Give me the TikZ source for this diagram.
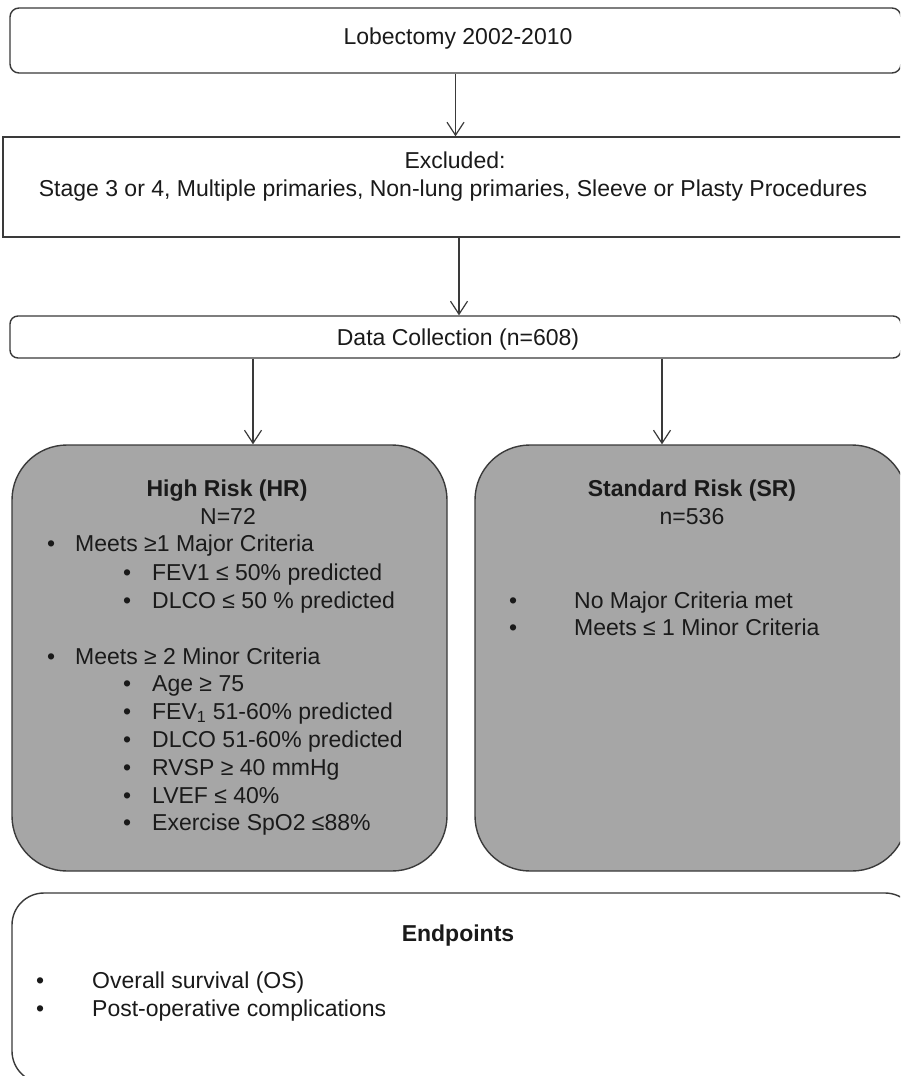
\documentclass[tikz,border=0pt]{standalone}
\usepackage{fontspec}
\setmainfont{Liberation Sans}
\usetikzlibrary{arrows.meta,calc}
\definecolor{boxline}{HTML}{3A3A3A}
\definecolor{boxgray}{HTML}{A6A6A6}
\definecolor{txt}{HTML}{1A1A1A}
\begin{document}
\begin{tikzpicture}[x=1pt,y=-1pt,
  box/.style={draw=boxline,line width=1.4pt,inner sep=0pt,anchor=center},
  whitebox/.style={box,fill=white},
  graybox/.style={box,fill=boxgray,rounded corners=55pt},
  lbl/.style={inner sep=0pt,anchor=base,text=txt,font=\fontsize{23}{28}\selectfont},
  item/.style={inner sep=0pt,anchor=base west,text=txt,font=\fontsize{23}{28}\selectfont},
  arr/.style={draw=boxline,line width=1.2pt,-{Straight Barb[length=13pt,width=17pt,line width=1.2pt]}}
]
\useasboundingbox (0,0) rectangle (900,1076);
\fill[white] (0,0) rectangle (900,1076);
\begin{scope}
\clip (0,0) rectangle (900,1076);
% boxes
\node[whitebox,rounded corners=9pt,minimum width=891pt,minimum height=65pt] (top) at (455.5,40.5) {};
\node[whitebox,minimum width=907pt,minimum height=100pt] (excl) at (456.5,187) {};
\node[whitebox,rounded corners=8pt,minimum width=891pt,minimum height=42pt] (data) at (455.5,337) {};
\node[graybox,minimum width=435pt,minimum height=426pt] (hr) at (229.5,658) {};
\node[graybox,minimum width=432pt,minimum height=426pt] (sr) at (691,658) {};
\node[whitebox,rounded corners=32pt,minimum width=905pt,minimum height=190pt] (ep) at (464.5,988) {};

% connectors
\draw[arr] (top.south) -- (top.south |- excl.north);
\coordinate (c2) at ([xshift=2.5pt]excl.south);
\draw[arr] (c2) -- (c2 |- data.north);
\coordinate (c3) at ([xshift=23.5pt]hr.north);
\draw[arr] (c3 |- data.south) -- (c3);
\coordinate (c4) at ([xshift=-29pt]sr.north);
\draw[arr] (c4 |- data.south) -- (c4);
\end{scope}

% texts
\node[lbl] (tTop) at (458,44) {Lobectomy 2002-2010};
\node[lbl] (tEx1) at (455,168) {Excluded:};
\node[lbl] (tEx2) at (453,196) {Stage 3 or 4, Multiple primaries, Non-lung primaries, Sleeve or Plasty Procedures};
\node[lbl] (tData) at (458,345) {Data Collection (n=608)};

\node[lbl,font=\fontsize{23}{28}\selectfont\bfseries] (hrT) at (227,496) {High Risk (HR)};
\node[lbl] (hrN) at (228,524) {N=72};
\node[item] (hr1) at (47,551) {\makebox[28pt][l]{•}Meets ≥1 Major Criteria};
\node[item] (hr1a) at (123,580) {\makebox[29pt][l]{•}FEV1 ≤ 50\% predicted};
\node[item] (hr1b) at (123,608) {\makebox[29pt][l]{•}DLCO ≤ 50 \% predicted};
\node[item] (hr2) at (47,664) {\makebox[28pt][l]{•}Meets ≥ 2 Minor Criteria};
\node[item] (hr2a) at (123,691) {\makebox[29pt][l]{•}Age ≥ 75};
\node[item] (hr2b) at (123,719) {\makebox[29pt][l]{•}FEV\textsubscript{1} 51-60\% predicted};
\node[item] (hr2c) at (123,747) {\makebox[29pt][l]{•}DLCO 51-60\% predicted};
\node[item] (hr2d) at (123,775) {\makebox[29pt][l]{•}RVSP ≥ 40 mmHg};
\node[item] (hr2e) at (123,803) {\makebox[29pt][l]{•}LVEF ≤ 40\%};
\node[item] (hr2f) at (123,830) {\makebox[29pt][l]{•}Exercise SpO2 ≤88\%};

\node[lbl,font=\fontsize{23}{28}\selectfont\bfseries] (srT) at (692,496) {Standard Risk (SR)};
\node[lbl] (srN) at (692,524) {n=536};
\node[item] (sr1) at (509,608) {\makebox[65pt][l]{•}No Major Criteria met};
\node[item] (sr2) at (509,635) {\makebox[65pt][l]{•}Meets ≤ 1 Minor Criteria};

\node[lbl,font=\fontsize{23}{28}\selectfont\bfseries] (epT) at (458,941) {Endpoints};
\node[item] (ep1) at (36,988) {\makebox[56pt][l]{•}Overall survival (OS)};
\node[item] (ep2) at (36,1016) {\makebox[56pt][l]{•}Post-operative complications};
\end{tikzpicture}
\end{document}
